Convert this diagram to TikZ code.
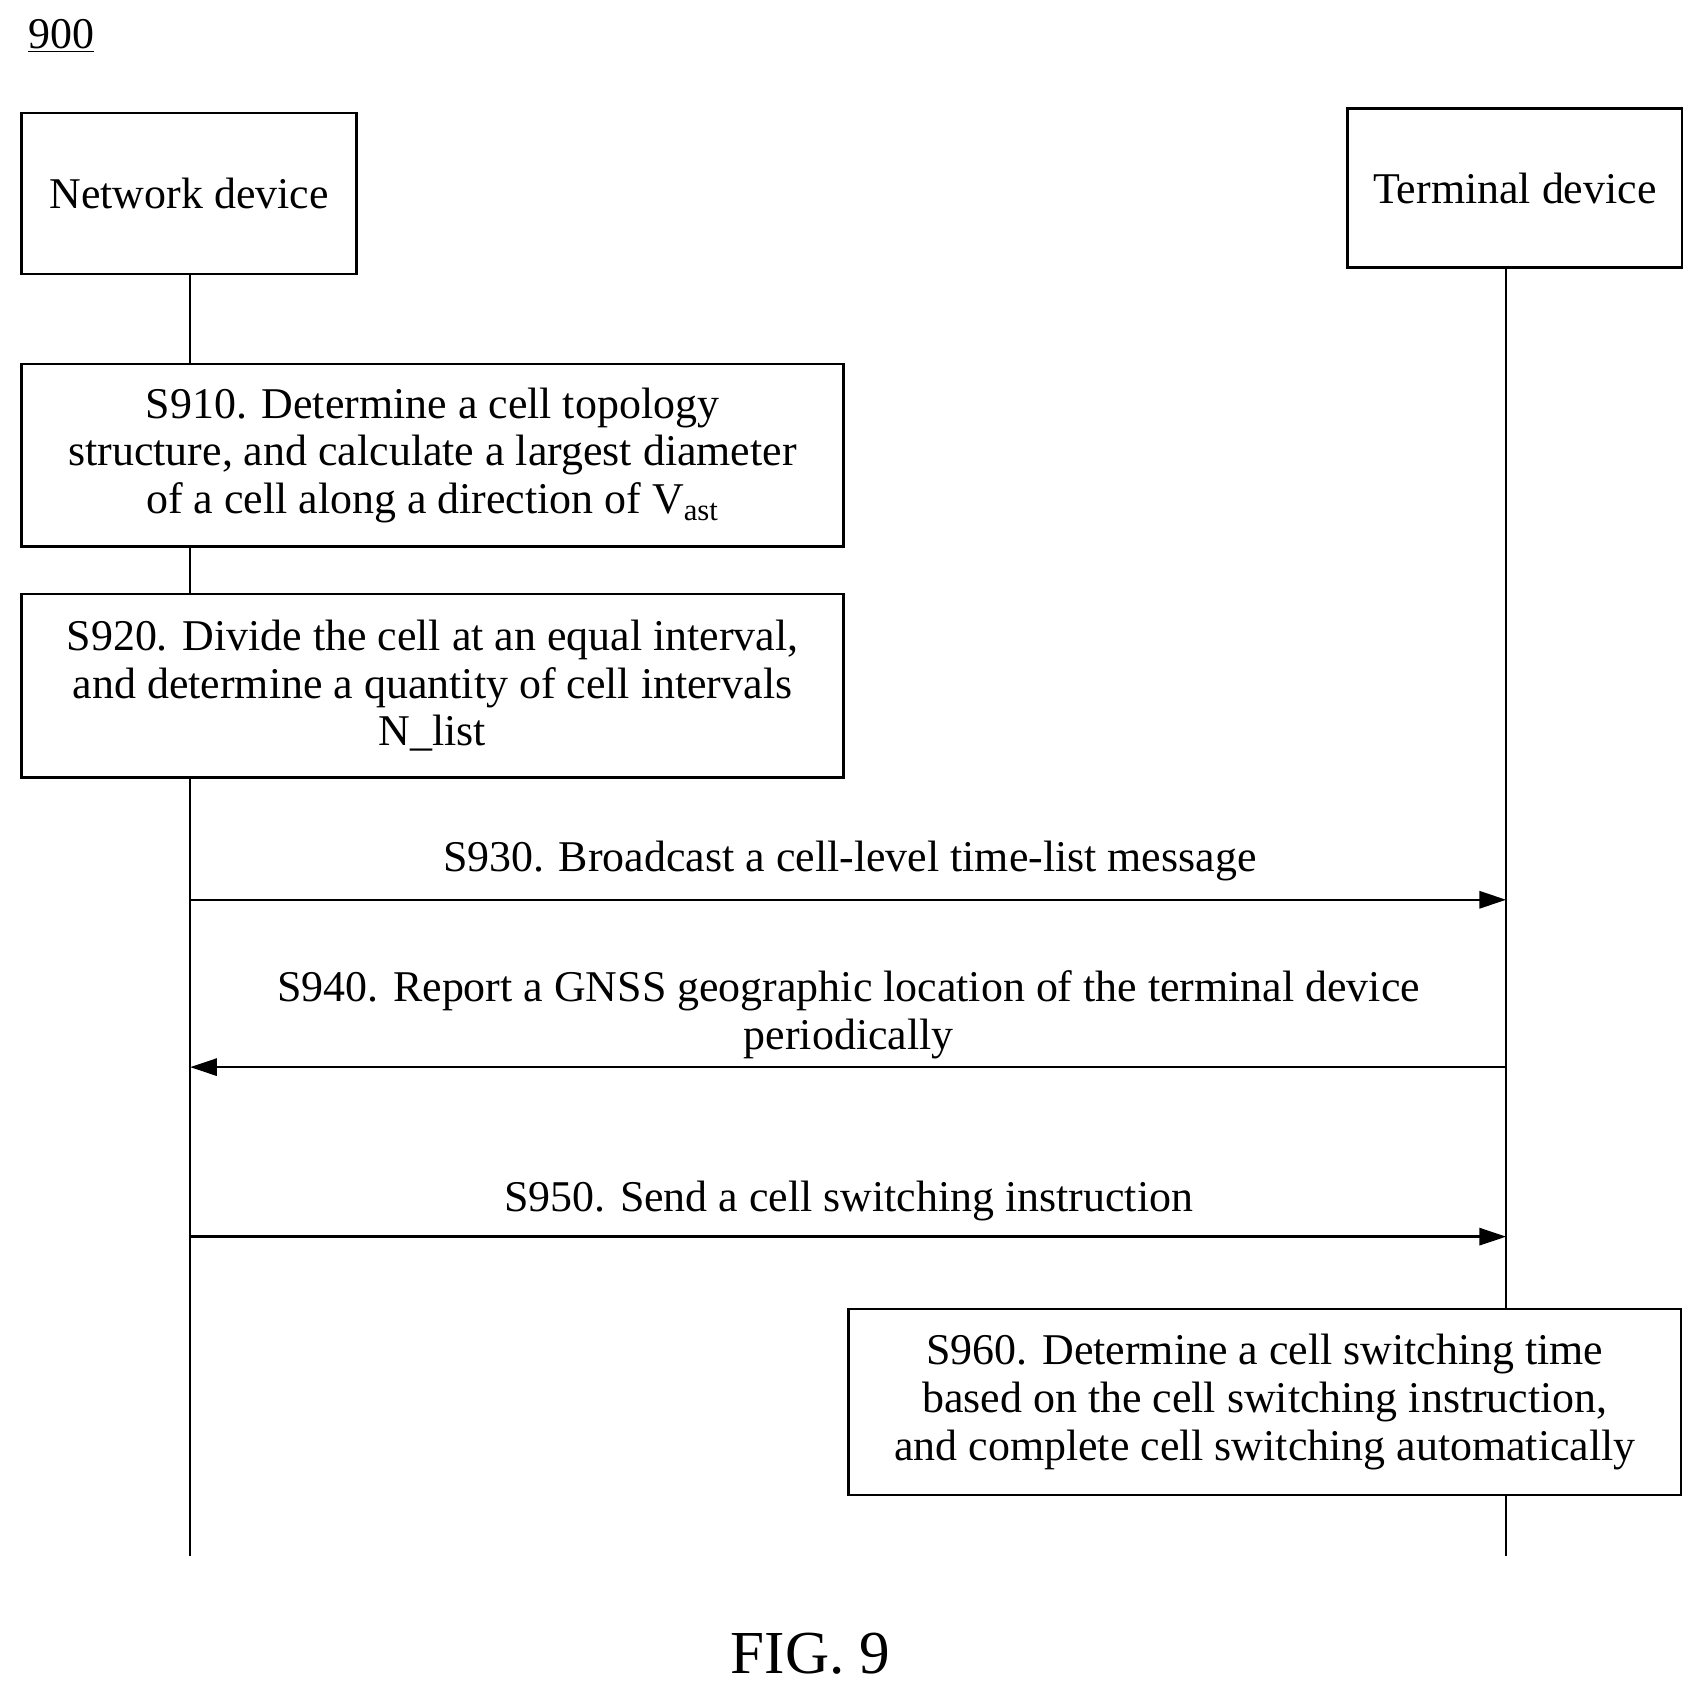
\documentclass[tikz,border=0pt]{standalone}
\usepackage{fontspec}
\setmainfont{Liberation Serif}
\usetikzlibrary{arrows.meta}
\begin{document}
\begin{tikzpicture}[x=0.02cm,y=-0.02cm,
  every node/.style={font=\fontsize{23}{25}\selectfont},
  box/.style={draw,line width=1.3pt,inner sep=0pt,align=center},
  life/.style={line width=1.3pt},
  msg/.style={line width=1.3pt,-{Triangle[length=14pt,width=9pt]}}]
\useasboundingbox (0,0) rectangle (1569,1559);
\node[anchor=west] (num) at (20,33) {\underline{900}};
\node[box,minimum width=308*0.02cm,minimum height=148*0.02cm] (nd) at (174,178) {Network device};
\node[box,minimum width=308*0.02cm,minimum height=146*0.02cm] (td) at (1394,173) {Terminal device};
\coordinate (ndend) at (175,1432);
\coordinate (tdend) at (1386,1432);
\node[box,minimum width=756*0.02cm,minimum height=168*0.02cm] (s910) at (398,419) {S910. Determine a cell topology\\structure, and calculate a largest diameter\\of a cell along a direction of V\textsubscript{ast}};
\node[box,minimum width=756*0.02cm,minimum height=169*0.02cm] (s920) at (398,631) {S920. Divide the cell at an equal interval,\\and determine a quantity of cell intervals\\N\_list};
\node[box,minimum width=766*0.02cm,minimum height=171*0.02cm] (s960) at (1164,1290) {S960. Determine a cell switching time\\based on the cell switching instruction,\\and complete cell switching automatically};
\draw[life] (nd.south -| ndend) -- (s910.north -| ndend);
\draw[life] (s910.south -| ndend) -- (s920.north -| ndend);
\draw[life] (s920.south -| ndend) -- (ndend);
\draw[life] (td.south -| tdend) -- (s960.north -| tdend);
\draw[life] (s960.south -| tdend) -- (tdend);
\coordinate (a1) at (175,828); \coordinate (b1) at (1386,828);
\coordinate (a2) at (175,982); \coordinate (b2) at (1386,982);
\coordinate (a3) at (175,1138); \coordinate (b3) at (1386,1138);
\draw[msg] (a1) -- (b1);
\draw[msg] (b2) -- (a2);
\draw[msg] (a3) -- (b3);
\node (l1) at (782,792) {S930. Broadcast a cell-level time-list message};
\node[align=center] (l2) at (781,934) {S940. Report a GNSS geographic location of the terminal device\\periodically};
\node (l3) at (781,1105) {S950. Send a cell switching instruction};
\node (fig) at (746,1522) {\fontsize{32}{36}\selectfont FIG. 9};
\end{tikzpicture}
\end{document}
